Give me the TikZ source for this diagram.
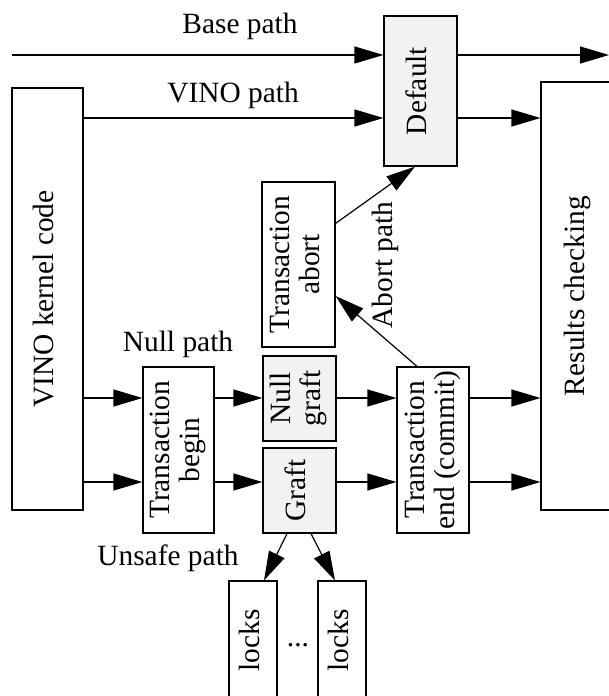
\documentclass[tikz,border=0pt]{standalone}
\usepackage{fontspec}
\setmainfont{Liberation Serif}
\usepackage{tikz}
\usetikzlibrary{arrows.meta, positioning, calc}

\newcommand{\vtxt}[1]{\rotatebox{90}{\begin{tabular}{@{}c@{}}#1\end{tabular}}}

\begin{document}
\begin{tikzpicture}[x=0.5pt, y=-0.5pt,
  box/.style={rectangle, draw, line width=0.6pt, inner sep=0pt,
              font=\fontsize{14.7}{15}\selectfont},
  gbox/.style={box, fill=black!5},
  lbl/.style={font=\fontsize{14.7}{15}\selectfont, inner sep=0pt},
  arr/.style={-{Triangle[length=14.5pt, width=8.5pt]}, line width=0.6pt}
]
\clip (0,0) rectangle (609,696);

\node[box, minimum width=35.5pt, minimum height=211pt] (vino) at (47.5,299) {\vtxt{VINO kernel code}};
\node[gbox, minimum width=36.5pt, minimum height=75pt] (default) at (420.5,91) {\vtxt{Default}};
\node[box, minimum width=37pt, minimum height=214pt] (results) at (578,296) {\vtxt{Results checking}};
\node[box, minimum width=35.5pt, minimum height=83pt] (tbegin) at (178.5,450) {\vtxt{Transaction\\begin}};
\node[box, minimum width=36.5pt, minimum height=82.5pt] (tabort) at (298.5,264.5) {\vtxt{Transaction\\abort}};
\node[gbox, minimum width=36.5pt, minimum height=42.5pt] (nullgraft) at (299.5,398.5) {\vtxt{Null\\graft}};
\node[gbox, minimum width=36.5pt, minimum height=42.5pt] (graft) at (299.5,490.5) {\vtxt{Graft}};
\node[box, minimum width=36pt, minimum height=83pt] (tend) at (433,450) {\vtxt{Transaction\\end (commit)}};
\node[box, minimum width=24pt, minimum height=59.5pt] (locksa) at (253,640.5) {\vtxt{locks}};
\node[box, minimum width=24pt, minimum height=59.5pt] (locksb) at (342,640.5) {\vtxt{locks}};
\node[lbl, anchor=base] (dots) at (298,646) {...};

\node[lbl, anchor=base] (basel) at (240,33) {Base path};
\node[lbl, anchor=base] (vinol) at (233,102) {VINO path};
\node[lbl, anchor=base] (nulll) at (178,351) {Null path};
\node[lbl, anchor=base] (unsafel) at (168,565) {Unsafe path};
\node[lbl, rotate=90] (abortl) at (385,265) {Abort path};

\coordinate (basein) at (12,55);
\coordinate (baseout) at (609,55);
\coordinate (rowv) at (0,118);
\coordinate (rowa) at (0,398);
\coordinate (rowb) at (0,482);

\draw[arr] (basein) -- (basein -| default.west);
\draw[arr] (default.east |- basein) -- (baseout);
\draw[arr] (vino.east |- rowv) -- (default.west |- rowv);
\draw[arr] (default.east |- rowv) -- (results.west |- rowv);

\draw[arr] (vino.east |- rowa) -- (tbegin.west |- rowa);
\draw[arr] (vino.east |- rowb) -- (tbegin.west |- rowb);
\draw[arr] (tbegin.east |- rowa) -- (nullgraft.west |- rowa);
\draw[arr] (tbegin.east |- rowb) -- (graft.west |- rowb);
\draw[arr] (nullgraft.east |- rowa) -- (tend.west |- rowa);
\draw[arr] (graft.east |- rowb) -- (tend.west |- rowb);
\draw[arr] (tend.east |- rowa) -- (results.west |- rowa);
\draw[arr] (tend.east |- rowb) -- (results.west |- rowb);

\draw[arr] ([yshift=-21pt]tabort.north east) -- ([xshift=-2.75pt]default.south);
\draw[arr] ([xshift=-8pt]tend.north) -- ([yshift=-15.75pt]tabort.east);
\draw[arr] ([xshift=-6.25pt]graft.south) -- ([xshift=5.5pt]locksa.north);
\draw[arr] ([xshift=5.75pt]graft.south) -- ([xshift=-3.5pt]locksb.north);
\end{tikzpicture}
\end{document}
